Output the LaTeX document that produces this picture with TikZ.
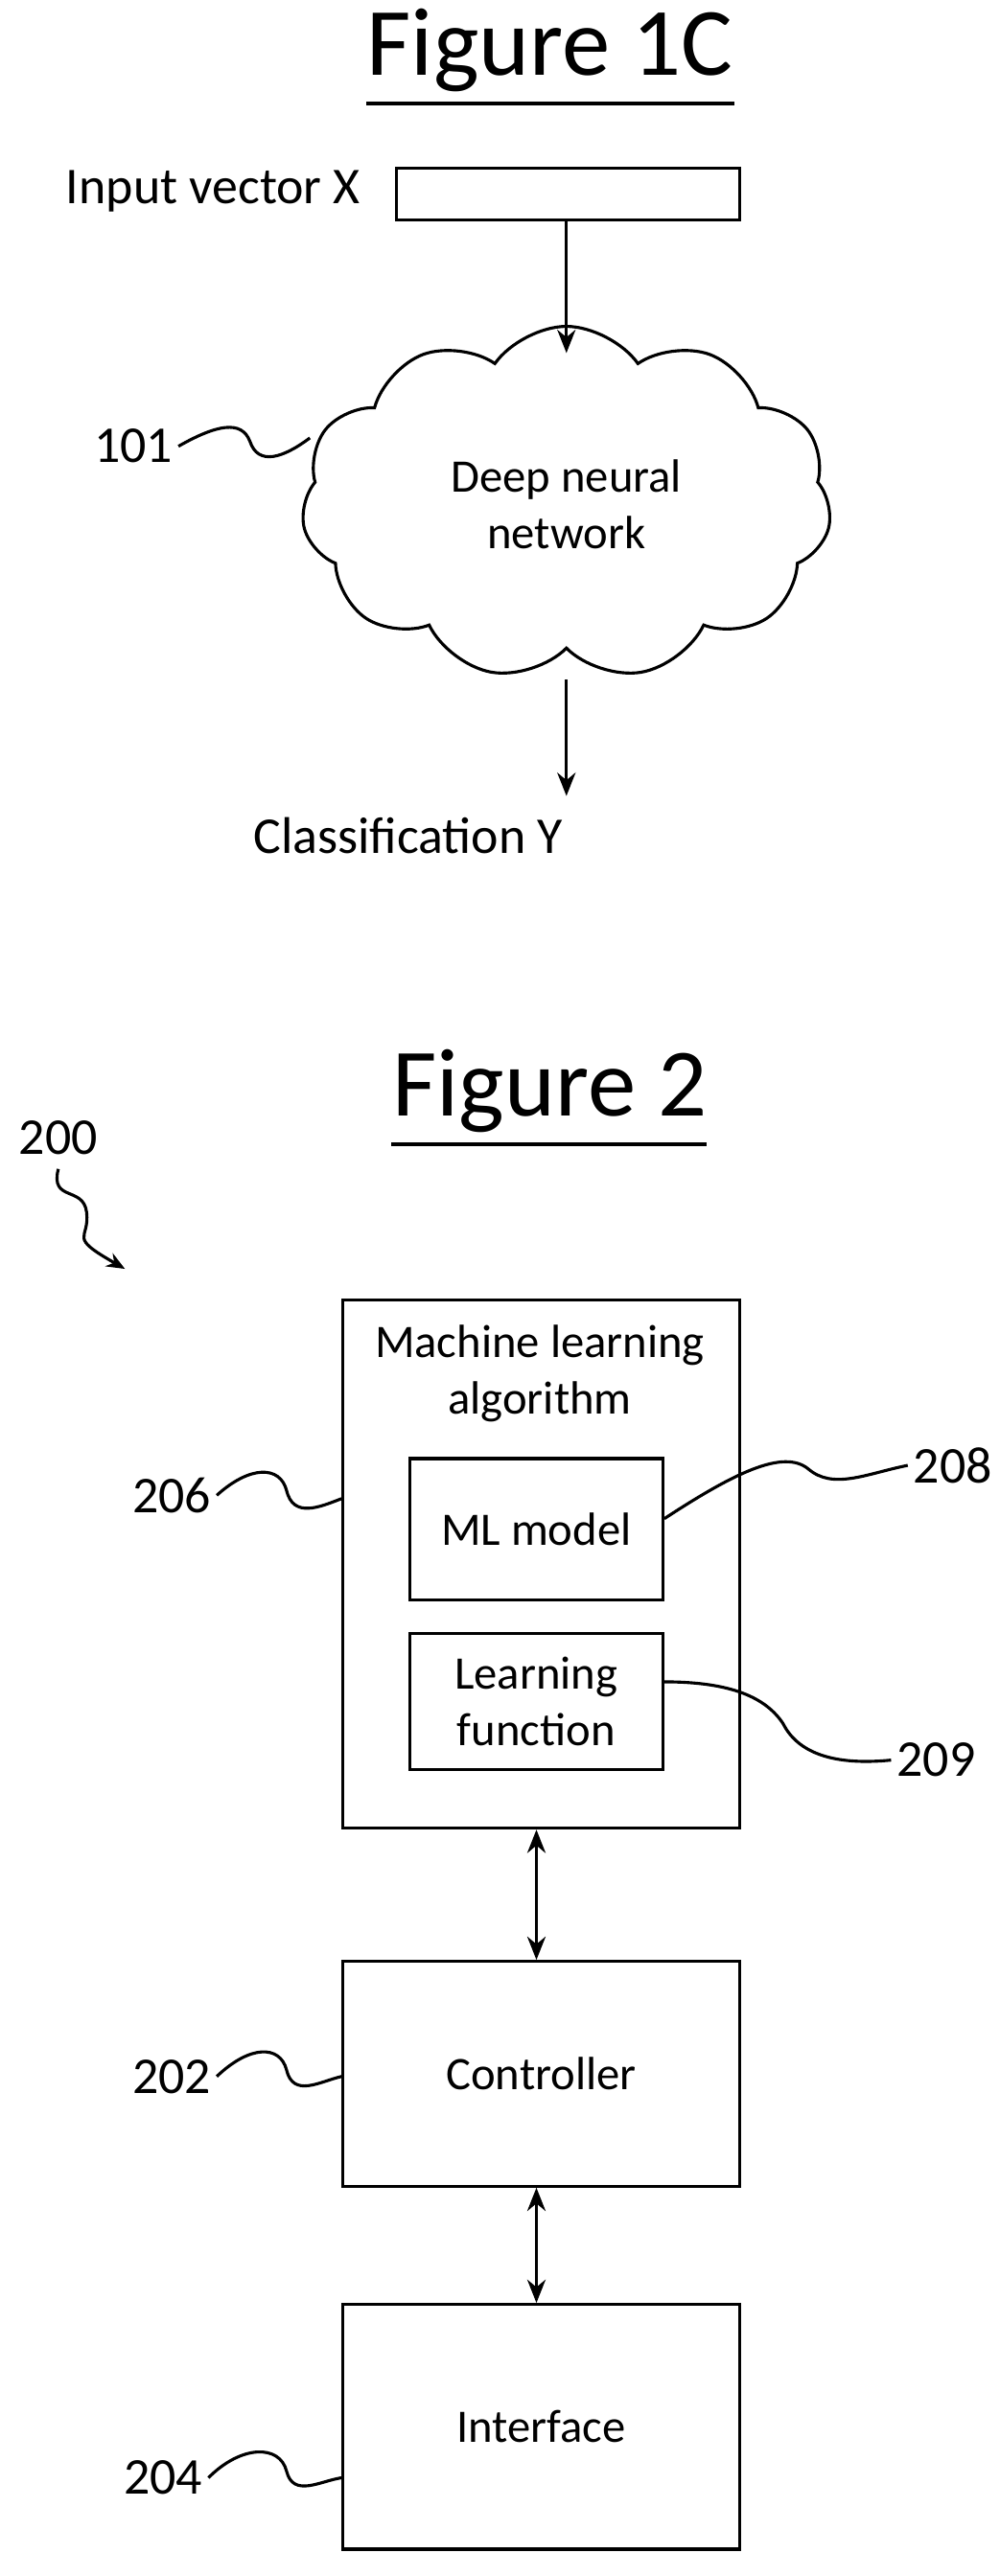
\documentclass[tikz,border=0pt]{standalone}
\usepackage{fontspec}
\setmainfont{Carlito}
\usetikzlibrary{shapes.symbols,calc,arrows.meta}
\begin{document}
\begin{tikzpicture}[x=1pt,y=-1pt,
  box/.style={draw,line width=1.8pt,anchor=north west,inner sep=0pt},
  lbl/.style={font=\fontsize{31}{36}\selectfont},
  txt/.style={font=\fontsize{28}{34}\selectfont,align=center},
  title/.style={font=\fontsize{58}{60}\selectfont},
  arr/.style={line width=1.8pt,-{Stealth[length=14pt,width=11pt]}},
  darr/.style={line width=1.8pt,{Stealth[length=14pt,width=11pt]}-{Stealth[length=14pt,width=11pt]}},
  sq/.style={line width=1.8pt}]
\useasboundingbox (0,0) rectangle (600,1547);
% Figure 1C
\node[title] (t1) at (330,30) {Figure 1C};
\draw[line width=2.5pt] (220,62) -- (441,62);
\node[lbl] (inx) at (128,115) {Input vector X};
\node[box,minimum width=206pt,minimum height=31pt] (vec) at (237,100) {};
\node[cloud,draw,line width=1.8pt,cloud puffs=11,cloud puff arc=110,aspect=1.5,minimum width=318pt,minimum height=212pt,inner sep=0pt] (dnn) at (340,302) {};
\node[txt] (dnnt) at (340,303) {Deep neural\\network};
\node[lbl] (cls) at (245,502) {Classification Y};
\draw[arr] (vec.south -| 340,0) -- (340,212);
\draw[arr] (340,408) -- (340,478);
\node[lbl] (l101) at (80,268) {101};
\coordinate (c101) at (186,263);
\draw[sq] (l101.east) .. controls (130,255) and (145,252) .. (150,265) .. controls (155,280) and (170,275) .. (c101);
% Figure 2
\node[title] (t2) at (330,655) {Figure 2};
\draw[line width=2.5pt] (235,687) -- (424,687);
\node[lbl] (l200) at (35,683) {200};
\coordinate (c200) at (75,762);
\draw[sq,-{Stealth[length=11pt,width=9pt]}] (35,702) .. controls (30,722) and (50,712) .. (52,728) .. controls (54,745) and (40,742) .. (c200);
\node[box,minimum width=238pt,minimum height=317pt] (mla) at (205,780) {};
\node[txt] (mlat) at (324,825) {Machine learning\\algorithm};
\node[box,minimum width=152pt,minimum height=85pt] (mlm) at (245,875) {};
\node[txt] at (mlm.center) {ML model};
\node[box,minimum width=152pt,minimum height=82pt] (lf) at (245,980) {};
\node[txt] at (lf.center) {Learning\\function};
\node[box,minimum width=238pt,minimum height=135pt] (ctl) at (205,1177) {};
\node[txt] at (ctl.center) {Controller};
\node[box,minimum width=238pt,minimum height=147pt] (ifc) at (205,1383) {};
\node[txt] at (ifc.center) {Interface};
\draw[darr] (mla.south -| 322,0) -- (ctl.north -| 322,0);
\draw[darr] (ctl.south -| 322,0) -- (ifc.north -| 322,0);
\node[lbl] (l206) at (103,898) {206};
\draw[sq] (l206.east) .. controls (150,880) and (168,880) .. (172,895) .. controls (176,912) and (192,905) .. (mla.west |- 0,900);
\node[lbl] (l202) at (103,1247) {202};
\draw[sq] (l202.east) .. controls (150,1228) and (168,1228) .. (172,1243) .. controls (176,1260) and (192,1250) .. (ctl.west |- 0,1247);
\node[lbl] (l204) at (98,1488) {204};
\draw[sq] (l204.east) .. controls (145,1468) and (168,1468) .. (172,1484) .. controls (176,1500) and (192,1490) .. (ifc.west |- 0,1488);
\node[lbl] (l208) at (572,880) {208};
\draw[sq] (mlm.east |- 0,912) .. controls (440,885) and (470,870) .. (485,882) .. controls (500,895) and (520,885) .. (l208.west);
\node[lbl] (l209) at (562,1057) {209};
\draw[sq] (lf.east |- 0,1010) .. controls (440,1010) and (460,1020) .. (470,1035) .. controls (480,1055) and (505,1060) .. (l209.west);
\end{tikzpicture}
\end{document}
